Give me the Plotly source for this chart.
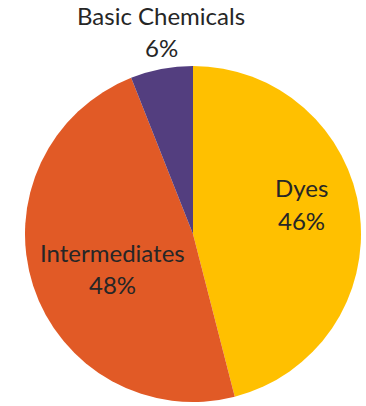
import plotly.graph_objects as go

categories = ["Dyes", "Intermediates", "Basic Chemicals"]
values = [46, 48, 6]
colors = ["#FFC000", "#E15A26", "#533E7F"]

W, H = 366, 406
# label anchor points (pixels) for each category: (x, y of first line, y of second line)
label_pos = {
    "Dyes": (301, 187, 220),
    "Intermediates": (112, 252, 284),
    "Basic Chemicals": (161, 16, 48),
}
FONT = "Lato"
FS = 24
TXT = "#262626"

total = sum(values)
fig = go.Figure(go.Pie(
    labels=categories,
    values=values,
    sort=False,
    direction="clockwise",
    rotation=0,
    marker=dict(colors=colors, line=dict(width=0)),
    textinfo="none",
    hoverinfo="label+percent",
    domain=dict(x=[25 / W, 361 / W], y=[4 / H, 340 / H]),
    showlegend=False,
))

annotations = []
for cat, v in zip(categories, values):
    px, py1, py2 = label_pos[cat]
    pct = f"{round(100 * v / total)}%"
    for txt, py in ((cat, py1), (pct, py2)):
        annotations.append(dict(
            x=px / W, y=1 - py / H, xref="paper", yref="paper",
            text=txt, showarrow=False, xanchor="center", yanchor="middle",
            font=dict(family=FONT, size=FS, color=TXT),
        ))

fig.update_layout(
    width=W, height=H,
    margin=dict(l=0, r=0, t=0, b=0),
    paper_bgcolor="white",
    plot_bgcolor="white",
    annotations=annotations,
)
fig.write_html("out.html")
